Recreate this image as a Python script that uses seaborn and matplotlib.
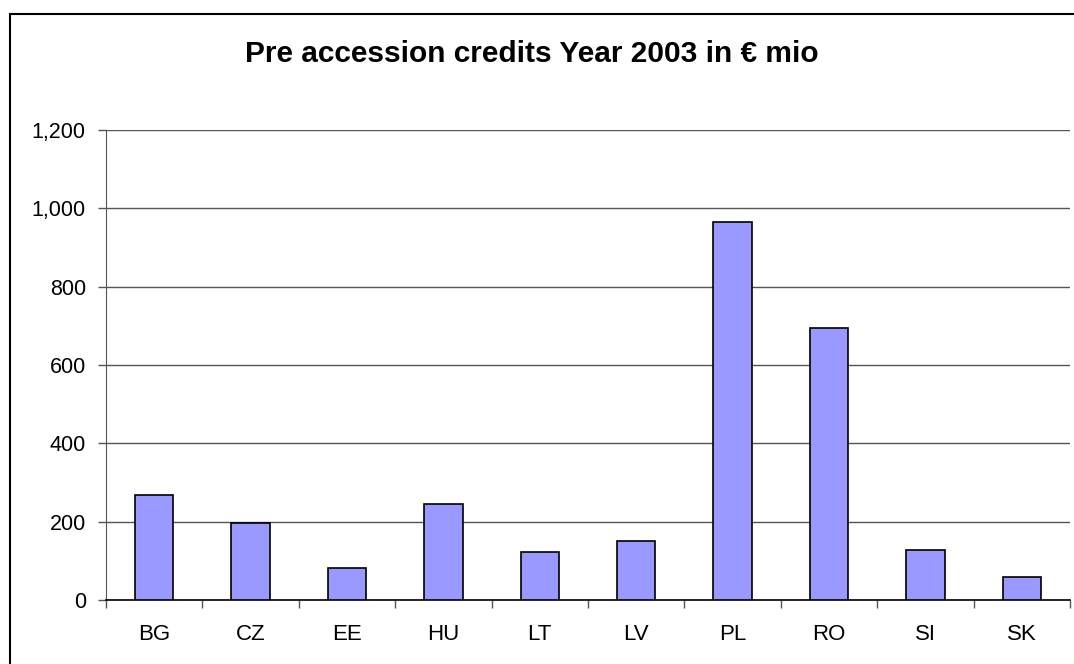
import matplotlib
matplotlib.use("Agg")
import matplotlib.pyplot as plt
import matplotlib.patches as mpatches
from matplotlib.ticker import FuncFormatter, FixedLocator
import seaborn as sns
import pandas as pd

countries = ["BG", "CZ", "EE", "HU", "LT", "LV", "PL", "RO", "SI", "SK"]
credits = [268, 196, 82, 246, 122, 150, 964, 695, 128, 60]
yticks = [0, 200, 400, 600, 800, 1000, 1200]
title = "Pre accession credits Year 2003 in € mio"

sns.set_style("white")
plt.rcParams['font.family'] = ['Liberation Sans', 'DejaVu Sans']
plt.rcParams['text.color'] = 'black'
plt.rcParams['xtick.color'] = 'black'
plt.rcParams['ytick.color'] = 'black'

df = pd.DataFrame({"country": countries, "credits": credits})

fig = plt.figure(figsize=(10.74, 6.64), dpi=100)
ax = fig.add_axes([106/1074, 64/664, 964/1074, 470/664])

sns.barplot(data=df, x="country", y="credits", color="#9999FF", saturation=1,
            width=0.4, edgecolor="black", linewidth=1.2, ax=ax, zorder=3)

ax.set_xlim(-0.5, len(countries) - 0.5)
ax.set_ylim(0, 1200)
ax.set_yticks(yticks)
ax.yaxis.set_major_formatter(FuncFormatter(lambda v, p: f"{int(v):,}"))
ax.grid(axis="y", color="#555555", linewidth=1, zorder=0)
ax.set_axisbelow(True)

ax.xaxis.set_minor_locator(FixedLocator([i - 0.5 for i in range(len(countries) + 1)]))
ax.tick_params(axis="x", which="major", bottom=True, length=0, pad=17, labelsize=16, labelcolor="black")
ax.tick_params(axis="x", which="minor", bottom=True, length=6, width=1, color="#555555", direction="out")
ax.tick_params(axis="y", which="major", left=True, length=6, width=1, color="#555555", direction="out",
               labelsize=15.5, pad=8.5, labelcolor="black")
ax.set_xlabel("")
ax.set_ylabel("")

for s in ["top", "right"]:
    ax.spines[s].set_visible(False)
ax.spines["left"].set_color("#555555")
ax.spines["bottom"].set_color("black")
ax.spines["bottom"].set_linewidth(1.2)

fig.text(531.5 / 1074, 1 - 54/664, title, color="black",
         ha="center", va="center", fontsize=21.5, fontweight="bold")

border = mpatches.Rectangle((10/1074, -0.01), 1.1, 1 - 14/664 + 0.01, transform=fig.transFigure,
                            fill=False, edgecolor="black", linewidth=1.5, clip_on=False)
fig.patches.append(border)

fig.savefig("out.png", dpi=100)
